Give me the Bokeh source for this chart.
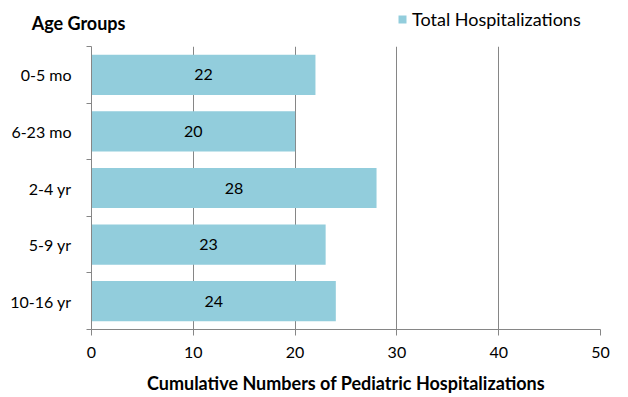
from bokeh.plotting import figure
from bokeh.layouts import column
from bokeh.models import (FixedTicker, Legend, LegendItem, ColumnDataSource, Range1d)
from bokeh.core.properties import value
from bokeh.embed import file_html
from bokeh.resources import INLINE

categories = ["0-5 mo", "6-23 mo", "2-4 yr", "5-9 yr", "10-16 yr"]
hospitalizations = [22, 20, 28, 23, 24]
x_ticks = [0, 10, 20, 30, 40, 50]
series_name = "Total Hospitalizations"
y_title = "Age Groups"
x_title = "Cumulative Numbers of Pediatric Hospitalizations"

FONT = "Lato"
BAR = "#92CDDC"
AXIS = "#868686"
W = 628
HEAD_H = 44
MAIN_H = 353
LEFT = 91
RIGHT = 28

n = len(categories)
ypos = [n - i - 0.5 for i in range(n)]
src = ColumnDataSource(dict(y=ypos, v=hospitalizations, mid=[h / 2 for h in hospitalizations],
                            txt=[str(h) for h in hospitalizations]))

# ---------- header (title + legend); its frame is aligned with the chart's ----------
head = figure(width=W, height=HEAD_H, output_backend="svg", toolbar_location=None,
              x_range=Range1d(0, 1), y_range=Range1d(100, 101),
              min_border_left=LEFT, min_border_right=RIGHT,
              min_border_top=0, min_border_bottom=0)
head.xaxis.visible = False
head.grid.visible = False
head.outline_line_color = None
hy = head.yaxis[0]
hy.ticker = FixedTicker(ticks=[], minor_ticks=[])
hy.axis_line_color = None
hy.major_tick_line_color = None
hy.minor_tick_line_color = None
hy.major_tick_out = 0
hy.major_label_standoff = 0
hy.axis_label = y_title
hy.axis_label_orientation = "horizontal"
hy.axis_label_text_font = FONT
hy.axis_label_text_font_style = "bold"
hy.axis_label_text_font_size = "18px"
hy.axis_label_text_color = "black"
hy.axis_label_standoff = -34

# legend proxy: same bars, kept outside the header's visible range
proxy = head.hbar(y="y", right="v", left=0, height=0.71, color=BAR, line_color=None, source=src)
legend = Legend(items=[LegendItem(label=series_name, renderers=[proxy])],
                location=(397 - LEFT, HEAD_H - 30), orientation="horizontal",
                label_text_font=FONT, label_text_font_size="18px", label_text_color="black",
                glyph_width=10, glyph_height=10, label_standoff=5, label_height=20,
                padding=0, margin=0, border_line_color=None, background_fill_alpha=0)
head.add_layout(legend, "center")

# ---------- main chart ----------
p = figure(width=W, height=MAIN_H, output_backend="svg", toolbar_location=None,
           x_range=Range1d(0, 50), y_range=Range1d(0, n),
           min_border_left=LEFT, min_border_right=RIGHT, min_border_top=2, min_border_bottom=68)
p.outline_line_color = None

p.hbar(y="y", right="v", left=0, height=0.71, color=BAR, line_color=None, source=src)
p.text(x="mid", y="y", text="txt", source=src, text_align="center", text_baseline="middle",
       text_font=value(FONT), text_font_size="16px", text_color="black")

xa = p.xaxis[0]
xa.ticker = FixedTicker(ticks=x_ticks, minor_ticks=[])
xa.axis_line_color = AXIS
xa.major_tick_line_color = AXIS
xa.major_tick_out = 6
xa.major_tick_in = 0
xa.major_label_standoff = 11
xa.major_label_text_font = FONT
xa.major_label_text_font_size = "16px"
xa.major_label_text_color = "black"
xa.axis_label = x_title
xa.axis_label_text_font = FONT
xa.axis_label_text_font_style = "bold"
xa.axis_label_text_font_size = "18px"
xa.axis_label_standoff = 11
xa.axis_label_text_color = "black"

ya = p.yaxis[0]
ya.ticker = FixedTicker(ticks=ypos, minor_ticks=list(range(n + 1)))
ya.major_label_overrides = {y: c for y, c in zip(ypos, categories)}
ya.axis_line_color = AXIS
ya.major_tick_line_color = None
ya.major_tick_out = 0
ya.major_tick_in = 0
ya.minor_tick_line_color = AXIS
ya.minor_tick_out = 5
ya.minor_tick_in = 0
ya.major_label_standoff = 15
ya.major_label_text_font = FONT
ya.major_label_text_font_size = "16px"
ya.major_label_text_color = "black"

p.xgrid.ticker = FixedTicker(ticks=x_ticks[1:])
p.xgrid.grid_line_color = AXIS
p.ygrid.grid_line_color = None

layout = column(head, p, spacing=0)
open("out.html", "w").write(file_html(layout, INLINE))
